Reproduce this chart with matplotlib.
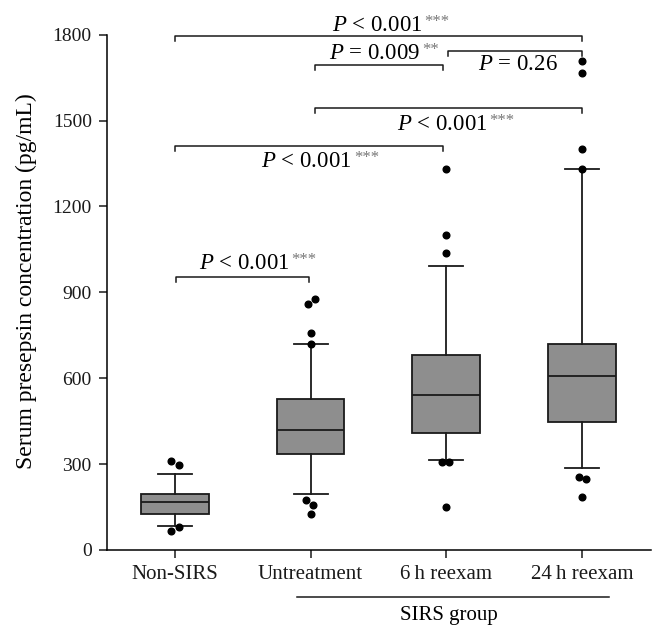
import matplotlib
matplotlib.use("Agg")
import matplotlib.pyplot as plt
import matplotlib.transforms as mtransforms

# ---------------- data ----------------
categories = ["Non-SIRS", "Untreatment", "6\u2009h reexam", "24\u2009h reexam"]
q1 = [126, 335, 409, 447]
median = [168, 419, 541, 608]
q3 = [196, 527, 681, 720]
whislo = [84, 196, 314, 286]
whishi = [265, 720, 992, 1331]
outliers = [
    [311, 297, 80, 66],
    [877, 859, 758, 720, 175, 157, 126],
    [1331, 1100, 1037, 307, 307, 150],
    [1708, 1666, 1401, 1331, 255, 248, 185],
]
outlier_jitter = [
    [-0.03, 0.03, 0.03, -0.03],
    [0.03, -0.02, 0.0, 0.0, -0.03, 0.02, 0.0],
    [0.0, 0.0, 0.0, -0.03, 0.02, 0.0],
    [0.0, 0.0, 0.0, 0.0, -0.02, 0.03, 0.0],
]
yticks = [0, 300, 600, 900, 1200, 1500, 1800]

# brackets: (x1, x2, y, label, stars, text_x, text_baseline_y)
brackets = [
    (0.0, 3.0, 1796, "P < 0.001", "***", 1.49, 1813),
    (1.03, 1.98, 1694, "P = 0.009", "**", 1.47, 1715),
    (2.01, 3.0, 1744, "P = 0.26", "", 2.53, 1677),
    (1.03, 3.0, 1545, "P < 0.001", "***", 1.97, 1467),
    (0.0, 1.98, 1411, "P < 0.001", "***", 0.97, 1338),
    (0.01, 0.99, 954, "P < 0.001", "***", 0.51, 981),
]

# ---------------- style ----------------
plt.rcParams["font.family"] = ["Liberation Serif", "DejaVu Serif"]
plt.rcParams["mathtext.fontset"] = "custom"
plt.rcParams["mathtext.rm"] = "Liberation Serif"
plt.rcParams["mathtext.it"] = "Liberation Serif:italic"

fig = plt.figure(figsize=(6.65, 6.39), dpi=100)
ax = fig.add_axes([0.161, 0.1393, 0.818, 0.8064])

positions = list(range(len(categories)))
stats = []
for i in positions:
    stats.append(dict(med=median[i], q1=q1[i], q3=q3[i],
                      whislo=whislo[i], whishi=whishi[i], fliers=[]))

lw = 1.3
ax.bxp(stats, positions=positions, widths=0.5, patch_artist=True,
       showfliers=False,
       boxprops=dict(facecolor="#8e8e8e", edgecolor="#1a1a1a", linewidth=lw),
       medianprops=dict(color="#1a1a1a", linewidth=lw),
       whiskerprops=dict(color="#1a1a1a", linewidth=lw),
       capprops=dict(color="#1a1a1a", linewidth=lw),
       capwidths=0.25)

for i in positions:
    xs = [i + j for j in outlier_jitter[i]]
    ax.plot(xs, outliers[i], "o", color="black", markersize=4.8,
            linestyle="none", zorder=5, clip_on=False)

ax.set_xlim(-0.5, 3.51)
ax.set_ylim(0, 1800)
ax.set_yticks(yticks)
ax.set_yticklabels([str(v) for v in yticks])
ax.set_xticks(positions)
ax.set_xticklabels(categories)
for s in ["top", "right"]:
    ax.spines[s].set_visible(False)
for s in ["left", "bottom"]:
    ax.spines[s].set_linewidth(1.1)
ax.tick_params(axis="both", direction="out", length=6, width=1.1,
               colors="#1a1a1a")
ax.tick_params(axis="y", labelsize=14, pad=5)
ax.tick_params(axis="x", labelsize=15, pad=5)
ax.set_ylabel("Serum presepsin concentration (pg/mL)", fontsize=17,
              labelpad=12)
ax.yaxis.set_label_coords(-0.128, 0.522)

# brackets
drop = 18
for x1, x2, y, lab, stars, tx, ty in brackets:
    ax.plot([x1, x1, x2, x2], [y - drop, y, y, y - drop], color="#1a1a1a",
            linewidth=1.1, clip_on=False)
    txt = lab.replace("P", r"$P$", 1)
    t = ax.text(tx, ty, txt, ha="center", va="baseline", fontsize=16.5,
                clip_on=False)
    if stars:
        ax.annotate(stars, xy=(1.0, 1.0), xycoords=t, xytext=(1.5, 1),
                    textcoords="offset points", ha="left", va="top",
                    fontsize=12, color="#777777")

# SIRS group annotation
trans = mtransforms.blended_transform_factory(ax.transData, ax.transAxes)
ax.plot([0.9, 3.2], [-0.091, -0.091], color="#1a1a1a", linewidth=1.1,
        transform=trans, clip_on=False)
ax.text(2.02, -0.128, "SIRS group", ha="center", va="center",
        fontsize=15, transform=trans)

fig.savefig("out.png", dpi=100)
